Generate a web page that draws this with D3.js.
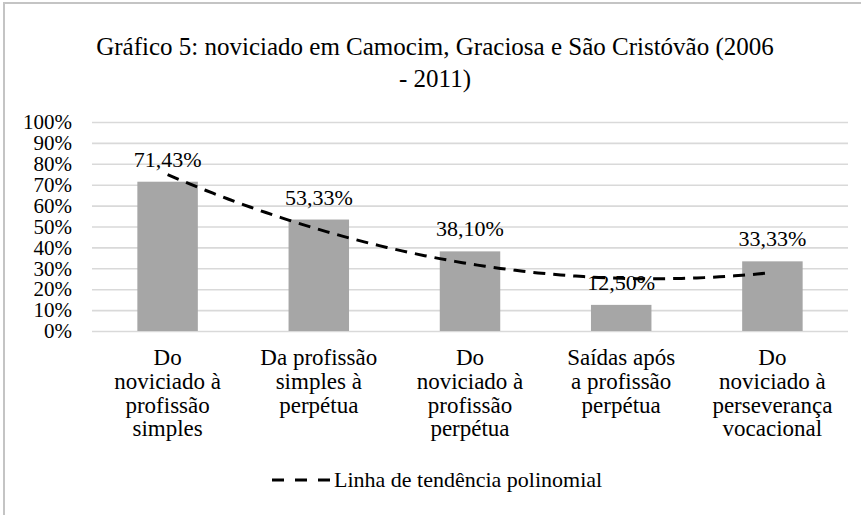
<!DOCTYPE html>
<html>
<head>
<meta charset="utf-8">
<script src="https://cdn.jsdelivr.net/npm/d3@7"></script>
<style>
  html, body { margin: 0; padding: 0; background: #fff; }
  svg { display: block; }
</style>
</head>
<body>
<script>
// dados
const categories = [
  ["Do", "noviciado à", "profissão", "simples"],
  ["Da profissão", "simples à", "perpétua"],
  ["Do", "noviciado à", "profissão", "perpétua"],
  ["Saídas após", "a profissão", "perpétua"],
  ["Do", "noviciado à", "perseverança", "vocacional"]
];
const values = [71.43, 53.33, 38.10, 12.50, 33.33];
const yTicks = [0, 10, 20, 30, 40, 50, 60, 70, 80, 90, 100];
const titleLines = ["Gráfico 5: noviciado em Camocim, Graciosa e São Cristóvão (2006", "- 2011)"];
const legendLabel = "Linha de tendência polinomial";

const SVG_DIM = { W: 861, H: 515 };
const PLOT = { LEFT: 92, RIGHT: 848, TOP: 122, BOTTOM: 331 };
const FONT = "'Liberation Serif', 'Times New Roman', serif";

const ptBR = d3.formatLocale({ decimal: ",", thousands: ".", grouping: [3], currency: ["R$", ""] });
const fmtVal = (d) => ptBR.format(".2f")(d) + "%";

// ajuste polinomial de ordem 2 (mínimos quadrados), como a linha de tendência do Excel
function polyfit2(ys) {
  const xs = ys.map((_, i) => i + 1);
  const S = (f) => d3.sum(xs, (x, i) => f(x, ys[i]));
  const n = xs.length;
  const sx = S((x) => x), sx2 = S((x) => x * x), sx3 = S((x) => x ** 3), sx4 = S((x) => x ** 4);
  const sy = S((x, y) => y), sxy = S((x, y) => x * y), sx2y = S((x, y) => x * x * y);
  const det = (m) =>
    m[0][0] * (m[1][1] * m[2][2] - m[1][2] * m[2][1]) -
    m[0][1] * (m[1][0] * m[2][2] - m[1][2] * m[2][0]) +
    m[0][2] * (m[1][0] * m[2][1] - m[1][1] * m[2][0]);
  const A = [[n, sx, sx2], [sx, sx2, sx3], [sx2, sx3, sx4]];
  const B = [sy, sxy, sx2y];
  const D = det(A);
  const coef = [0, 1, 2].map((k) => det(A.map((row, r) => row.map((v, c) => (c === k ? B[r] : v)))) / D);
  return (x) => coef[0] + coef[1] * x + coef[2] * x * x;
}
const trend = polyfit2(values);

const svg = d3.select("body").append("svg")
  .attr("width", SVG_DIM.W)
  .attr("height", SVG_DIM.H)
  .style("font-family", FONT);

// moldura do gráfico
svg.append("rect")
  .attr("x", 4).attr("y", 3)
  .attr("width", 950).attr("height", 600)
  .attr("fill", "#fff")
  .attr("stroke", "#c4c4c4")
  .attr("stroke-width", 2);

// título
svg.append("g").selectAll("text")
  .data(titleLines)
  .join("text")
  .attr("x", 435)
  .attr("y", (d, i) => 55 + i * 32)
  .attr("text-anchor", "middle")
  .style("font-family", FONT)
  .style("font-size", "25px")
  .attr("fill", "#000")
  .text((d) => d);

const x = d3.scaleBand()
  .domain(d3.range(values.length))
  .range([PLOT.LEFT, PLOT.RIGHT])
  .paddingInner(0.6)
  .paddingOuter(0.3);

const y = d3.scaleLinear().domain([0, 100]).range([PLOT.BOTTOM, PLOT.TOP]);

// eixo Y com linhas de grade
const yAxis = svg.append("g")
  .attr("transform", `translate(${PLOT.LEFT},0)`)
  .call(
    d3.axisLeft(y)
      .tickValues(yTicks)
      .tickSize(-(PLOT.RIGHT - PLOT.LEFT))
      .tickPadding(20)
      .tickFormat((d) => d + "%")
  );
yAxis.attr("font-family", null).attr("font-size", null);
yAxis.select(".domain").remove();
yAxis.selectAll(".tick line").attr("stroke", "#d9d9d9").attr("stroke-width", 1.6);
yAxis.selectAll(".tick text")
  .style("font-family", FONT)
  .style("font-size", "21px")
  .attr("fill", "#000");

// barras
svg.append("g").selectAll("rect")
  .data(values)
  .join("rect")
  .attr("x", (d, i) => x(i))
  .attr("y", (d) => y(d))
  .attr("width", x.bandwidth())
  .attr("height", (d) => y(0) - y(d))
  .attr("fill", "#a6a6a6");

// rótulos de dados
svg.append("g").selectAll("text")
  .data(values)
  .join("text")
  .attr("x", (d, i) => x(i) + x.bandwidth() / 2)
  .attr("y", (d) => y(d) - 15)
  .attr("text-anchor", "middle")
  .style("font-family", FONT)
  .style("font-size", "22px")
  .attr("fill", "#000")
  .text(fmtVal);

// linha de tendência
const xPos = (t) => x(0) + x.bandwidth() / 2 + (t - 1) * x.step();
const samples = d3.range(1, values.length + 0.001, 0.05);
svg.append("path")
  .datum(samples)
  .attr("fill", "none")
  .attr("stroke", "#000")
  .attr("stroke-width", 3)
  .attr("stroke-dasharray", "12,8")
  .attr("d", d3.line().x((t) => xPos(t)).y((t) => y(trend(t))));

// rótulos das categorias
const catLabels = svg.append("g").selectAll("text")
  .data(categories)
  .join("text")
  .attr("text-anchor", "middle")
  .style("font-family", FONT)
  .style("font-size", "23px")
  .attr("fill", "#000");
catLabels.selectAll("tspan")
  .data((d, i) => d.map((line) => ({ line, i })))
  .join("tspan")
  .attr("x", (d) => x(d.i) + x.bandwidth() / 2)
  .attr("y", (d, j) => 365 + j * 23.8)
  .text((d) => d.line);

// legenda
const legend = svg.append("g").attr("transform", "translate(272,480)");
legend.append("line")
  .attr("x1", 0).attr("x2", 58)
  .attr("stroke", "#000")
  .attr("stroke-width", 3)
  .attr("stroke-dasharray", "12,11");
legend.append("text")
  .attr("x", 62)
  .attr("y", 7)
  .style("font-family", FONT)
  .style("font-size", "22px")
  .attr("fill", "#000")
  .text(legendLabel);
</script>
</body>
</html>
